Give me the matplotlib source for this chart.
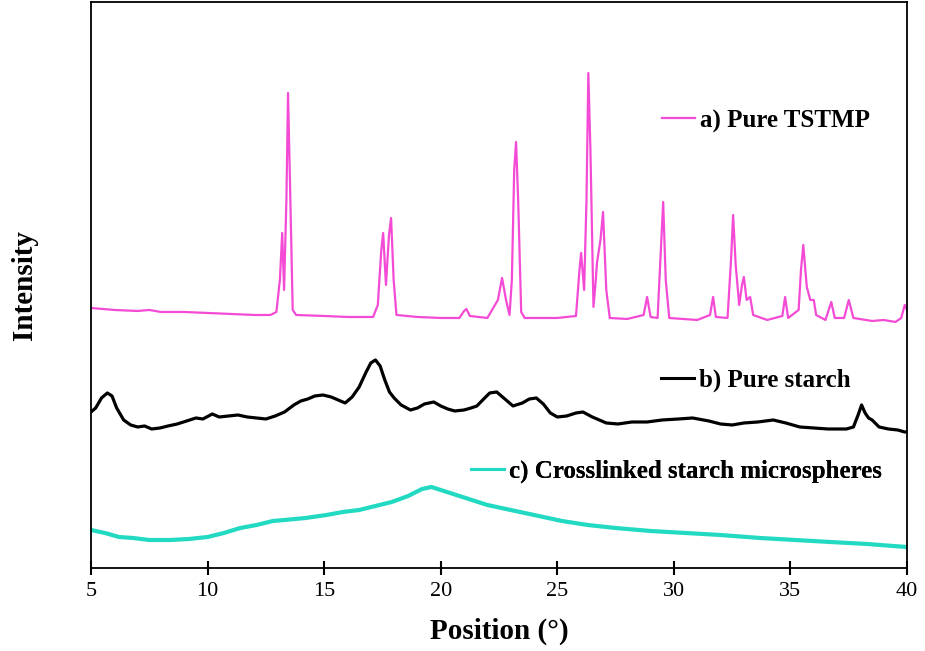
import matplotlib
matplotlib.use("Agg")
import matplotlib.pyplot as plt
from matplotlib.lines import Line2D

# XRD patterns (2theta in degrees, stacked intensity in arbitrary units)
tstmp_x = [5.0, 5.5, 6.0, 7.0, 7.5, 8.0, 9.0, 10.0, 11.0, 12.0, 12.7, 12.95, 13.1, 13.2, 13.28,
           13.38, 13.45, 13.55, 13.65, 13.8, 15.0, 16.0, 17.1, 17.3, 17.45, 17.53, 17.65, 17.78,
           17.87, 17.98, 18.1, 19.0, 20.0, 20.8, 21.0, 21.1, 21.25, 22.0, 22.45, 22.63, 22.8,
           22.95, 23.05, 23.15, 23.23, 23.32, 23.45, 23.6, 25.0, 25.8, 25.95, 26.02, 26.15, 26.25,
           26.33, 26.42, 26.55, 26.65, 26.7, 26.85, 26.96, 27.1, 27.25, 28.0, 28.7, 28.85, 29.0,
           29.3, 29.42, 29.54, 29.65, 29.8, 31.0, 31.55, 31.68, 31.8, 32.3, 32.45, 32.54, 32.65,
           32.8, 32.92, 33.0, 33.12, 33.27, 33.4, 34.0, 34.65, 34.77, 34.9, 35.35, 35.45, 35.55,
           35.62, 35.7, 35.85, 36.0, 36.1, 36.5, 36.75, 36.9, 37.3, 37.5, 37.7, 38.5, 39.0, 39.5,
           39.75, 39.9, 40.0]
tstmp_y = [260, 259, 258, 257, 258, 256, 256, 255, 254, 253, 253, 256, 288, 335, 278,
           368, 475, 368, 258, 253, 252, 251, 251, 263, 318, 335, 283, 333,
           350, 288, 253, 251, 250, 250, 257, 259, 252, 250, 268, 290, 268,
           253, 288, 398, 426, 368, 256, 250, 250, 252, 298, 315, 278, 368,
           495, 418, 261, 288, 305, 328, 356, 278, 250, 249, 253, 271, 251,
           250, 308, 366, 288, 250, 248, 253, 271, 251, 250, 308, 353, 303,
           263, 283, 291, 268, 271, 253, 248, 252, 271, 250, 258, 298, 323,
           303, 281, 268, 268, 253, 248, 266, 250, 250, 268, 250, 247, 248, 246,
           250, 263, 258]

starch_x = [5.0, 5.2, 5.45, 5.7, 5.9, 6.1, 6.4, 6.7, 7.0, 7.3, 7.6, 7.96, 8.3, 8.7, 9.1, 9.5,
            9.8, 10.2, 10.5, 10.9, 11.3, 11.7, 12.1, 12.5, 12.9, 13.3, 13.7, 14.0, 14.3, 14.6,
            14.95, 15.3, 15.6, 15.9, 16.2, 16.5, 16.8, 17.0, 17.2, 17.4, 17.6, 17.8, 18.0, 18.3,
            18.7, 19.0, 19.3, 19.7, 20.0, 20.3, 20.6, 21.0, 21.3, 21.55, 21.8, 22.1, 22.4, 22.7,
            23.1, 23.5, 23.8, 24.1, 24.4, 24.7, 25.0, 25.4, 25.8, 26.1, 26.5, 27.1, 27.6, 28.2,
            28.85, 29.5, 30.2, 30.8, 31.5, 32.0, 32.5, 33.0, 33.6, 34.26, 34.8, 35.4, 36.0, 36.6,
            37.4, 37.7, 37.9, 38.05, 38.2, 38.35, 38.5, 38.8, 39.2, 39.6, 39.9, 40.0]
starch_y = [156, 160, 170, 175, 172, 160, 148, 143, 141, 142, 139, 140, 142, 144, 147, 150,
            149, 154, 151, 152, 153, 151, 150, 149, 152, 156, 163, 167, 169, 172,
            173, 171, 168, 165, 171, 181, 196, 205, 208, 202, 188, 176, 170, 163,
            158, 160, 164, 166, 162, 159, 157, 158, 160, 162, 168, 175, 176, 170,
            162, 165, 169, 170, 164, 155, 151, 152, 155, 156, 151, 145, 144, 146,
            146, 148, 149, 150, 147, 144, 143, 145, 146, 148, 145, 141, 140, 139,
            139, 141, 153, 163, 155, 150, 148, 141, 139, 138, 136, 136]

micro_x = [5.0, 5.6, 6.2, 6.8, 7.5, 8.4, 9.2, 10.0, 10.7, 11.4, 12.1, 12.8, 13.3, 14.2, 15.1,
           15.8, 16.5, 17.2, 17.9, 18.6, 19.2, 19.6, 20.0, 20.4, 21.2, 22.0, 22.8, 23.6, 24.4,
           25.2, 26.3, 27.5, 29.0, 30.5, 32.0, 33.7, 35.2, 36.7, 38.3, 39.4, 40.0]
micro_y = [38, 35, 31, 30, 28, 28, 29, 31, 35, 40, 43, 47, 48, 50, 53,
           56, 58, 62, 66, 72, 79, 81, 78, 75, 69, 63, 59, 55, 51,
           47, 43, 40, 37, 35, 33, 30, 28, 26, 24, 22, 21]

labels = ["a) Pure TSTMP", "b) Pure starch", "c) Crosslinked starch microspheres"]
colors = ["#f44bd6", "#000000", "#22d9c2"]
widths = [1.6, 2.3, 3.0]

plt.rcParams["font.family"] = "Liberation Serif"

fig = plt.figure(figsize=(9.25, 6.51), dpi=100)
ax = fig.add_axes([0.0984, 0.1275, 0.8822, 0.8695])

ax.plot(tstmp_x, tstmp_y, color=colors[0], lw=widths[0])
ax.plot(starch_x, starch_y, color=colors[1], lw=widths[1])
ax.plot(micro_x, micro_y, color=colors[2], lw=widths[2])

ax.set_xlim(5, 40)
ax.set_ylim(0, 566)
ax.set_xticks(range(5, 41, 5))
ax.set_yticks([])
ax.tick_params(axis="x", direction="inout", length=10, width=1.5, labelsize=16, pad=5)
for s in ax.spines.values():
    s.set_linewidth(1.3)

ax.set_xlabel("Position (°)", fontsize=21, fontweight="bold", labelpad=12)
ax.set_ylabel("Intensity", fontsize=21, fontweight="bold", labelpad=38)

# one small legend per pattern, placed next to its curve
spots = [(0.700, 0.790), (0.699, 0.332), (0.466, 0.170)]
for lab, col, lw, pos in zip(labels, colors, widths, spots):
    h = Line2D([], [], color=col, lw=min(lw, 2.2))
    leg = ax.legend([h], [lab], loc="center left", bbox_to_anchor=pos, frameon=False,
                    prop={"weight": "bold", "size": 18}, handlelength=1.3,
                    handletextpad=0.2, borderpad=0, borderaxespad=0)
    ax.add_artist(leg)

plt.savefig("out.png", dpi=100)
